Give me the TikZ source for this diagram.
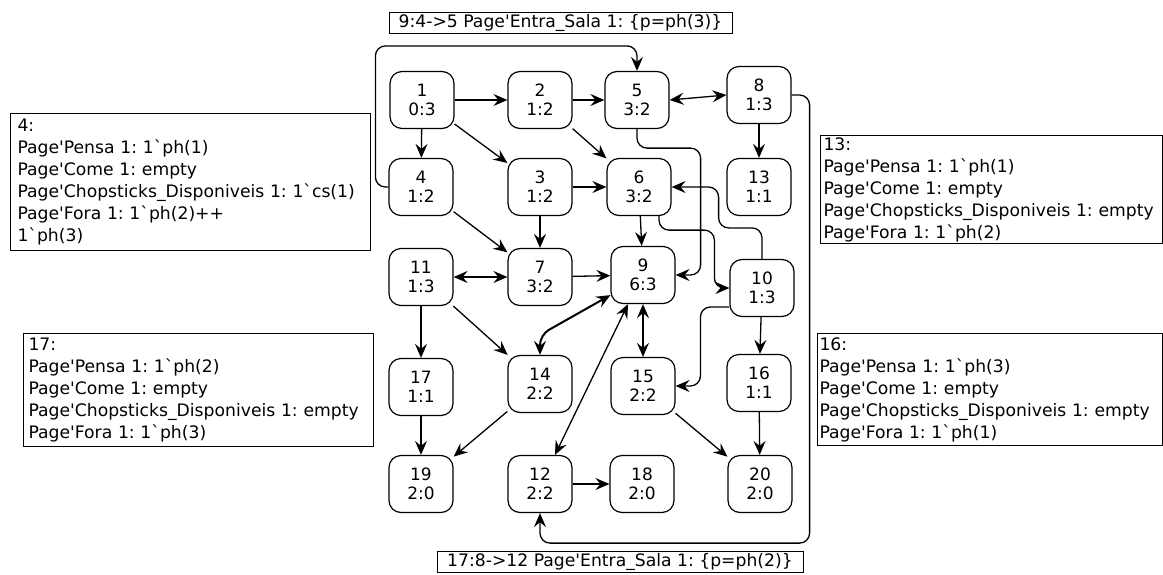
\documentclass[tikz,border=0pt]{standalone}
\usepackage{fontspec}
\setmainfont{DejaVu Sans}[Ligatures=TeXOff]
\usetikzlibrary{arrows.meta,calc}
\newcommand{\bq}{\symbol{96}}
\frenchspacing
\begin{document}
\begin{tikzpicture}[x=1pt,y=-1pt,
  st/.style={draw, line width=1.2pt, rounded corners=12pt, minimum width=64pt, minimum height=57pt, inner sep=0pt, align=center, font=\fontsize{17}{19}\selectfont},
  info/.style={draw, line width=1pt, anchor=north west, align=left, inner ysep=2pt, font=\fontsize{17.2}{22}\selectfont},
  lab/.style={draw, line width=1pt, inner sep=0pt, font=\fontsize{17.2}{20}\selectfont},
  conn/.style={line width=1.3pt, rounded corners=10pt},
  arr/.style={conn, -{Stealth[length=14pt,width=12pt,inset=5pt]}},
  dbl/.style={conn, {Stealth[length=14pt,width=12pt,inset=5pt]}-{Stealth[length=14pt,width=12pt,inset=5pt]}}]
\useasboundingbox (0,0) rectangle (1163,574);

% state nodes
\node[st] (n1)  at (422,100) {1\\0:3};
\node[st] (n2)  at (540,100) {2\\1:2};
\node[st] (n5)  at (637,100) {5\\3:2};
\node[st] (n8)  at (759,95)  {8\\1:3};
\node[st] (n4)  at (421,187) {4\\1:2};
\node[st] (n3)  at (540,187) {3\\1:2};
\node[st] (n6)  at (639,187) {6\\3:2};
\node[st] (n13) at (759,187) {13\\1:1};
\node[st] (n11) at (421,277) {11\\1:3};
\node[st] (n7)  at (540,277) {7\\3:2};
\node[st] (n9)  at (643,275) {9\\6:3};
\node[st] (n10) at (762,288) {10\\1:3};
\node[st] (n17) at (421,387) {17\\1:1};
\node[st] (n14) at (540,384) {14\\2:2};
\node[st] (n15) at (643,386) {15\\2:2};
\node[st] (n16) at (759,383) {16\\1:1};
\node[st] (n19) at (421,484) {19\\2:0};
\node[st] (n12) at (540,484) {12\\2:2};
\node[st] (n18) at (642,484) {18\\2:0};
\node[st] (n20) at (760,484) {20\\2:0};

% info boxes
\node[info, text width=346pt, inner xsep=7pt, minimum height=137pt] (b4) at (10,113)
 {4:\\Page'Pensa 1: 1\bq ph(1)\\Page'Come 1: empty\\Page'Chopsticks\_Disponiveis 1: 1\bq cs(1)\\Page'Fora 1: 1\bq ph(2)++\\1\bq ph(3)};
\node[info, text width=336pt, inner xsep=3pt, minimum height=88pt] (b13) at (820,135)
 {13:\\Page'Pensa 1: 1\bq ph(1)\\Page'Come 1: empty\\Page'Chopsticks\_Disponiveis 1: empty\\Page'Fora 1: 1\bq ph(2)};
\node[info, text width=340pt, inner xsep=5pt, minimum height=113pt] (b17) at (23,333)
 {17:\\Page'Pensa 1: 1\bq ph(2)\\Page'Come 1: empty\\Page'Chopsticks\_Disponiveis 1: empty\\Page'Fora 1: 1\bq ph(3)};
\node[info, text width=341pt, inner xsep=2pt, minimum height=112pt] (b16) at (817,333)
 {16:\\Page'Pensa 1: 1\bq ph(3)\\Page'Come 1: empty\\Page'Chopsticks\_Disponiveis 1: empty\\Page'Fora 1: 1\bq ph(1)};

% transition labels
\node[lab, minimum width=343pt, minimum height=21pt] (t9) at (560.5,22.5) {9:4->5 Page'Entra\_Sala 1: \{p=ph(3)\}};
\node[lab, minimum width=366pt, minimum height=21pt] (t17) at (620,562) {17:8->12 Page'Entra\_Sala 1: \{p=ph(2)\}};

% connectors
\draw[arr] (n1) -- (n2);
\draw[arr] (n2) -- (n5);
\draw[dbl] (n5.east) -- (n8.west);
\draw[arr] (n1) -- (n4);
\draw[arr] (n1) -- (n3);
\draw[arr] (n2) -- (n6);
\draw[arr] (n8) -- (n13);
\draw[arr] (n4.west) -- ++(-13,0) |- ($(n5.north)+(0,-25)$) -- (n5.north);
\draw[arr] (n3) -- (n6);
\draw[arr] (n3) -- (n7);
\draw[arr] (n4) -- (n7);
\draw[arr] (n6) -- (n9);
\draw[arr] (n5.south) -- ++(0,19) -| ($(n9.east)+(25,0)$) -- (n9.east);
\draw[arr] ($(n6.south)+(20,0)$) -- ++(0,14) -| ($(n10.west)+(-15,0)$) -- (n10.west);
\draw[arr] (n10.north) -- ++(0,-31) -| ($(n6.east)+(47,0)$) -- (n6.east);
\draw[arr] (n7) -- (n9);
\draw[dbl] (n11) -- (n7);
\draw[arr] (n11) -- (n17);
\draw[arr] (n11) -- (n14);
\draw[dbl, line width=2pt] (n14.north) -- ++(0,-20) -- ($(n9.south west)+(0,-9)$);
\draw[dbl] ($(n12.north)+(15,0)$) -- ($(n9.south)+(-15,0)$);
\draw[dbl] (n9) -- (n15);
\draw[arr] ($(n10.west)+(0,19)$) -- ++(-29,0) |- (n15.east);
\draw[arr] (n10) -- (n16);
\draw[arr] (n8.east) -- ++(18,0) |- ($(n12.south)+(0,30)$) -- (n12.south);
\draw[arr] (n17) -- (n19);
\draw[arr] (n14) -- (n19);
\draw[arr] (n15) -- (n20);
\draw[arr] (n16) -- (n20);
\draw[arr] (n12) -- (n18);
\end{tikzpicture}
\end{document}
